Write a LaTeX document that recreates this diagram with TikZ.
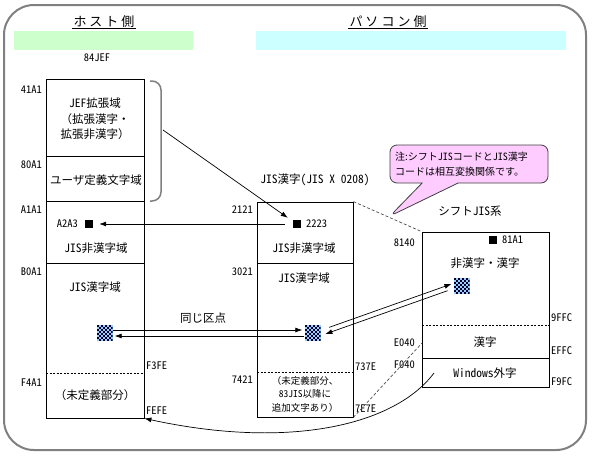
\documentclass[tikz,border=0pt]{standalone}
\usepackage{fontspec}
\setmainfont{Noto Sans CJK JP}
\newfontfamily\hwf[RawFeature=+hwid]{Noto Sans CJK JP}
\newcommand\hw[1]{{\hwf #1}}
\usetikzlibrary{arrows.meta,shapes.callouts}
\definecolor{chkblue}{RGB}{153,204,255}
\definecolor{chkdark}{RGB}{0,0,40}
\definecolor{bargreen}{RGB}{204,255,204}
\definecolor{barcyan}{RGB}{204,255,255}
\definecolor{notepink}{RGB}{255,204,255}
\begin{document}
\begin{tikzpicture}[x=1pt,y=-1pt,
  box/.style={draw, line width=0.8pt, inner sep=0},
  lbl/.style={font=\hwf\fontsize{10.5}{12}\selectfont, inner sep=1pt},
  txt/.style={font=\fontsize{11.5}{15.5}\selectfont, align=center, inner sep=0},
  small/.style={font=\fontsize{9.5}{13.5}\selectfont, align=center, inner sep=0},
  title/.style={font=\fontsize{13}{15}\selectfont, inner sep=1pt},
  chk/.style={minimum size=16pt, inner sep=0, fill=chkblue,
    path picture={
      \foreach \i [evaluate=\i as \o using {int(mod(\i,2))}] in {0,...,7}
        \foreach \j in {0,2,4,6}
          \fill[chkdark] ([xshift={2*(\j+\o)*1pt},yshift={-2*\i*1pt}]path picture bounding box.north west) rectangle ++(2,2);
    }},
  sq/.style={fill=black, minimum size=8pt, inner sep=0},
  arr/.style={-{Latex[length=7pt,width=5pt]}, line width=0.7pt},
  dsh/.style={dash pattern=on 3pt off 2pt, draw=black!70, line width=0.7pt},
  divdash/.style={dash pattern=on 2pt off 1.5pt, line width=0.8pt},
]
\useasboundingbox (0,0) rectangle (593,458);
% outer frame
\draw[gray, line width=2pt, rounded corners=30pt] (4,5) rectangle (586,450);

% bars and titles
\fill[bargreen] (14,31) rectangle (193,50);
\fill[barcyan] (256,31) rectangle (566,50);
\node[title] (th) at (104,22) {ホ\hspace{3pt}ス\hspace{3pt}ト\hspace{3pt}側};
\draw[line width=0.8pt] ([yshift=1pt]th.south west) -- ([yshift=1pt]th.south east);
\node[title] (tp) at (388,22) {パ\hspace{3pt}ソ\hspace{3pt}コ\hspace{3pt}ン\hspace{3pt}側};
\draw[line width=0.8pt] ([yshift=1pt]tp.south west) -- ([yshift=1pt]tp.south east);
\node[lbl] (jefT) at (97,58) {84JEF};

% left box (84JEF)
\node[box, minimum width=98pt, minimum height=339pt] (L) at (95,248.5) {};
\draw[line width=0.8pt] (46,156) -- (144,156);
\draw[line width=0.8pt] (46,201) -- (144,201);
\draw[line width=0.8pt] (46,263) -- (144,263);
\draw[divdash] (46,373) -- (144,373);
\node[lbl, anchor=east] (l1) at (43,90) {41A1};
\node[lbl, anchor=east] (l2) at (43,165) {80A1};
\node[lbl, anchor=east] (l3) at (43,210) {A1A1};
\node[lbl, anchor=east] (l4) at (43,272) {B0A1};
\node[lbl, anchor=east] (l5) at (43,383) {F4A1};
\node[lbl, anchor=west] (l6) at (145,366) {F3FE};
\node[lbl, anchor=west] (l7) at (145,411) {FEFE};
\node[txt] (jefx) at (95,119) {\hw{JEF}拡張域\\（拡張漢字・\\拡張非漢字）};
\node[txt] (user) at (96,180) {ユーザ定義文字域};
\node[lbl, anchor=east] (a2a3) at (79,224) {A2A3};
\node[sq] (sqL) at (89,224) {};
\node[txt] (lnk) at (96,248) {\hw{JIS}非漢字域};
\node[txt] (lk) at (95,287) {\hw{JIS}漢字域};
\node[chk] (cL) at (104.5,333) {};
\node[txt] (lund) at (95,395) {（未定義部分）};

% brace
\draw[gray, line width=1.5pt, rounded corners=9pt] (150,81) -- (161,81) -- (161,201) -- (150,201);
\coordinate (brc) at (163,130);

% middle box (JIS X 0208)
\node[txt] (mT) at (315,180) {\hw{JIS}漢字\hw{(JIS X 0208)}};
\node[box, minimum width=96pt, minimum height=215pt] (M) at (305,309.5) {};
\draw[line width=0.8pt] (257,263) -- (353,263);
\draw[divdash] (257,372) -- (353,372);
\node[lbl, anchor=east] (m1) at (254,210) {2121};
\node[lbl, anchor=east] (m2) at (254,272) {3021};
\node[lbl, anchor=east] (m3) at (254,380) {7421};
\node[lbl, anchor=west] (m4) at (354,367) {737E};
\node[lbl, anchor=west] (m5) at (354,409) {7E7E};
\node[sq] (sqM) at (297,224) {};
\node[lbl, anchor=west] (m2223) at (305,224) {2223};
\node[txt] (mnk) at (304,248) {\hw{JIS}非漢字域};
\node[txt] (mk) at (304,278) {\hw{JIS}漢字域};
\node[chk] (cM) at (312.5,333) {};
\node[small] (mund) at (305,394) {（未定義部分、\\\hw{83JIS}以降に\\追加文字あり）};

% right box (Shift JIS)
\node[txt] (rT) at (470,211) {シフト\hw{JIS}系};
\node[box, minimum width=127pt, minimum height=155pt] (R) at (485.5,309.5) {};
\draw[divdash] (422,325) -- (549,325);
\draw[line width=0.8pt] (422,358) -- (549,358);
\node[lbl, anchor=east] (r1) at (416,243) {8140};
\node[lbl, anchor=east] (r2) at (416,343) {E040};
\node[lbl, anchor=east] (r3) at (416,365) {F040};
\node[lbl, anchor=west] (r4) at (550,318) {9FFC};
\node[lbl, anchor=west] (r5) at (550,351) {EFFC};
\node[lbl, anchor=west] (r6) at (550,382) {F9FC};
\node[sq] (sqR) at (493,240) {};
\node[lbl, anchor=west] (r81) at (501,240) {81A1};
\node[txt] (rmix) at (485,263) {非漢字・漢字};
\node[chk] (cR) at (461.5,286) {};
\node[txt] (rk) at (485,342) {漢字};
\node[txt] (rw) at (485,373) {\hw{Windows}外字};
\coordinate (win) at (434,373);
\coordinate (rE) at (422,343);

% callout note
\node[rectangle callout, draw=black!75, fill=notepink, line width=0.8pt, rounded corners=7pt,
      minimum width=158pt, minimum height=38pt, text width=148pt, align=left, inner sep=0,
      callout absolute pointer={(390,216)}, callout pointer width=36pt,
      font=\fontsize{10}{14.5}\selectfont] (note) at (469,164)
      {注:シフト\hw{JIS}コードと\hw{JIS}漢字\\コードは相互変換関係です。};

% connectors
\draw[arr] (brc) -- ([xshift=-5pt,yshift=2pt]sqM.north west);
\draw[arr, shorten <=8pt, shorten >=6pt] (sqM.west) -- (sqL.east);
\node[txt] (same) at (203,318) {同じ区点};
\draw[arr, shorten >=2pt] ([yshift=3pt]cL.east) -- ([yshift=3pt]cM.west);
\draw[arr, shorten >=2pt] ([yshift=-3pt]cM.west) -- ([yshift=-3pt]cL.east);
\draw[arr, shorten <=8pt, shorten >=3pt] ([xshift=1pt,yshift=3pt]cM.east) -- ([xshift=1pt,yshift=3pt]cR.west);
\draw[arr, shorten <=5pt, shorten >=6pt] ([xshift=-1pt,yshift=-3pt]cR.west) -- ([xshift=-1pt,yshift=-3pt]cM.east);
\draw[dsh] (M.north east) -- (R.north west);
\draw[dsh] (M.south east) -- (rE);
\draw[arr] (win) .. controls (395,425) and (290,450) .. (L.south east);
\end{tikzpicture}
\end{document}
